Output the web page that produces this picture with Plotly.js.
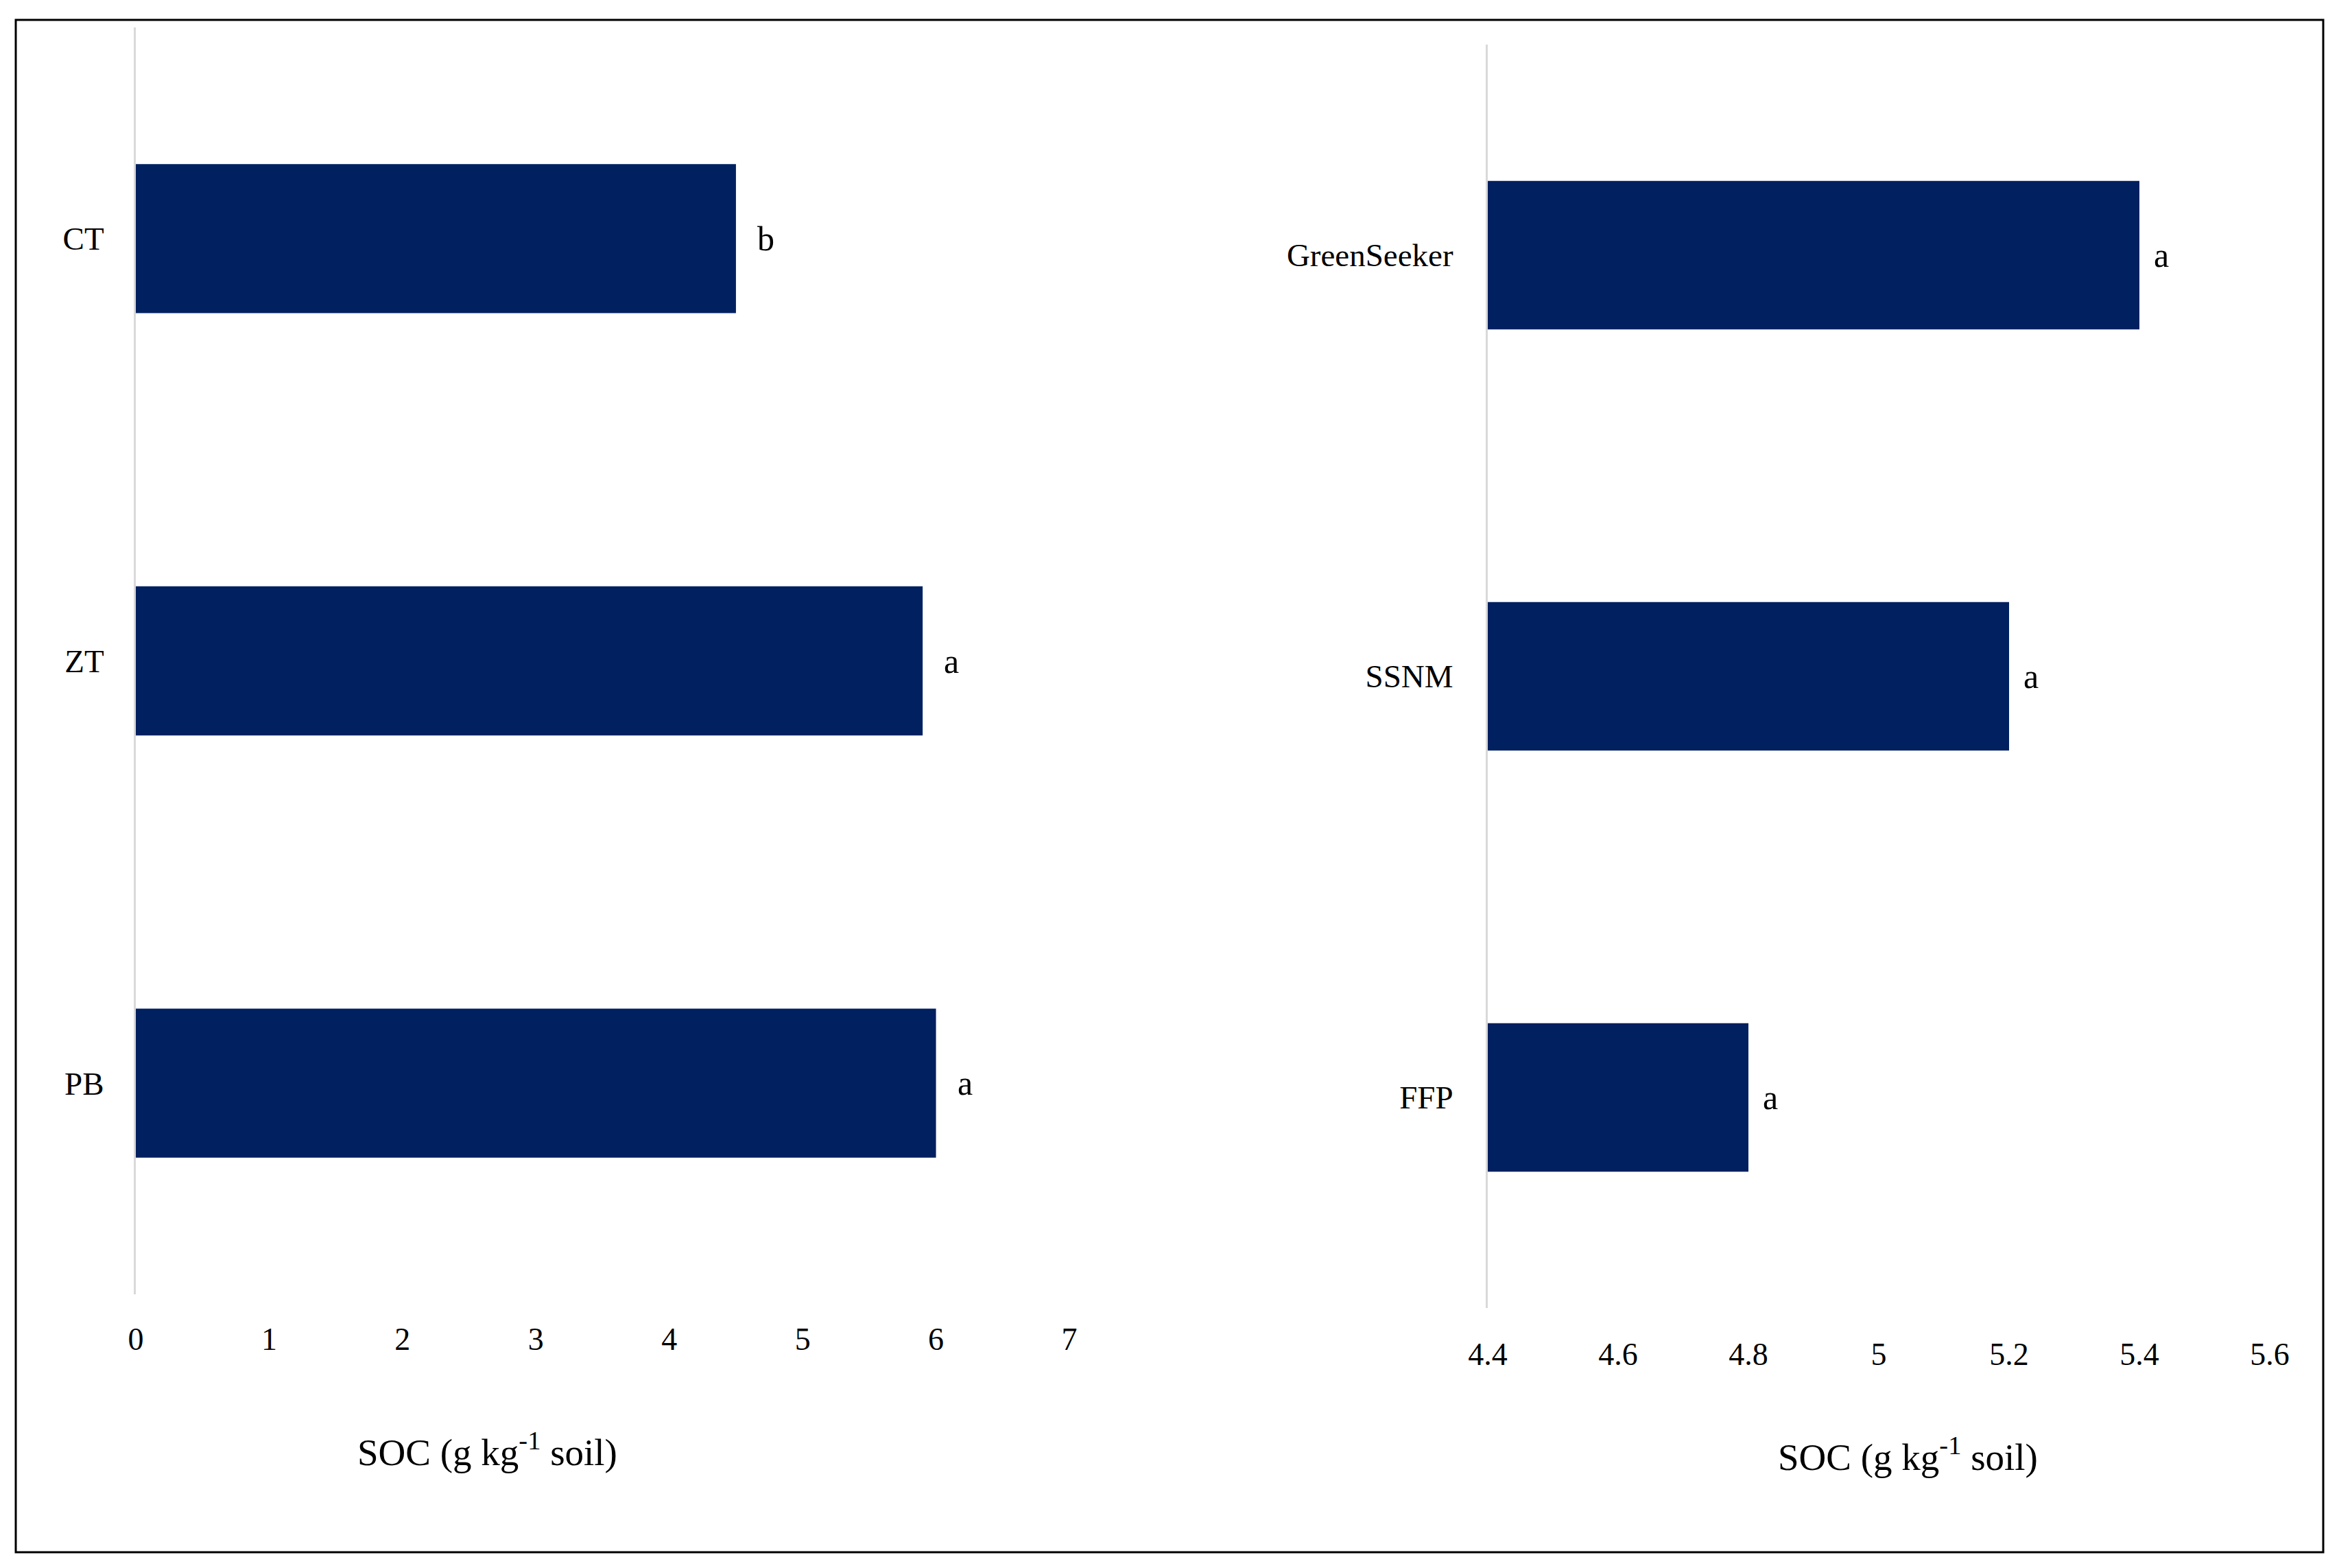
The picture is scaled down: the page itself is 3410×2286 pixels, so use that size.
<!DOCTYPE html>
<html>
<head>
<meta charset="utf-8">
<script src="https://cdn.plot.ly/plotly-3.0.1.min.js"></script>
<style>html,body{margin:0;padding:0;background:#fff;}#chart{width:3410px;height:2286px;}</style>
</head>
<body>
<div id="chart"></div>
<script>
// Left panel: tillage
const tillageCats = ['CT', 'ZT', 'PB'];
const tillageSOC = [4.5, 5.9, 6.0];
const tillageLetters = ['b', 'a', 'a'];

// Right panel: nutrient management
const nutrientCats = ['GreenSeeker', 'SSNM', 'FFP'];
const nutrientSOC = [5.4, 5.2, 4.8];
const nutrientLetters = ['a', 'a', 'a'];

const leftTicks = [0, 1, 2, 3, 4, 5, 6, 7];
const rightTicks = [4.4, 4.6, 4.8, 5.0, 5.2, 5.4, 5.6];
const rightTickText = ['4.4', '4.6', '4.8', '5', '5.2', '5.4', '5.6'];

const axisTitle = 'SOC (g kg<sup>-1</sup> soil)';

const W = 3410, H = 2286;
const BAR = '#002060';
const FONT = 'Liberation Serif, Times New Roman, serif';

const traces = [
  {type: 'bar', orientation: 'h', x: tillageSOC, y: tillageCats, xaxis: 'x', yaxis: 'y',
   marker: {color: BAR}, hoverinfo: 'x+y'},
  {type: 'bar', orientation: 'h', x: nutrientSOC, y: nutrientCats, xaxis: 'x2', yaxis: 'y2',
   marker: {color: BAR}, hoverinfo: 'x+y'}
];

const letterAnn = [];
tillageCats.forEach((c, i) => letterAnn.push({
  x: tillageSOC[i], y: c, xref: 'x', yref: 'y', text: tillageLetters[i],
  showarrow: false, xanchor: 'left', yanchor: 'middle', xshift: 29,
  font: {family: FONT, size: 50, color: '#000'}
}));
nutrientCats.forEach((c, i) => letterAnn.push({
  x: nutrientSOC[i], y: c, xref: 'x2', yref: 'y2', text: nutrientLetters[i],
  showarrow: false, xanchor: 'left', yanchor: 'middle', xshift: 19,
  font: {family: FONT, size: 50, color: '#000'}
}));

const titleAnn = [
  {x: 710 / W, y: 1 - 2113 / H, xref: 'paper', yref: 'paper', text: axisTitle, showarrow: false,
   xanchor: 'center', yanchor: 'middle', font: {family: FONT, size: 55, color: '#000'}},
  {x: 2781 / W, y: 1 - 2120 / H, xref: 'paper', yref: 'paper', text: axisTitle, showarrow: false,
   xanchor: 'center', yanchor: 'middle', font: {family: FONT, size: 55, color: '#000'}}
];

const xCommon = {
  showgrid: false, zeroline: false, showline: false, ticks: '',
  tickfont: {family: FONT, size: 46, color: '#000'}, fixedrange: true
};
const yCommon = {
  showgrid: false, zeroline: false, showline: true, linecolor: '#d9d9d9', linewidth: 3,
  ticks: '', autorange: 'reversed', type: 'category',
  tickfont: {family: FONT, size: 47, color: '#000'}, fixedrange: true
};

const layout = {
  width: W, height: H,
  margin: {l: 0, r: 0, t: 0, b: 0},
  paper_bgcolor: '#fff', plot_bgcolor: 'rgba(0,0,0,0)',
  showlegend: false, bargap: 0.647,
  xaxis: Object.assign({}, xCommon, {domain: [198 / W, 1559 / W], anchor: 'y', range: [0, 7],
    tickvals: leftTicks, ticklabelstandoff: 34}),
  yaxis: Object.assign({}, yCommon, {domain: [1 - 1887 / H, 1 - 40 / H], anchor: 'x',
    ticklabelstandoff: 34}),
  xaxis2: Object.assign({}, xCommon, {domain: [2169 / W, 3309 / W], anchor: 'y2', range: [4.4, 5.6],
    tickvals: rightTicks, ticktext: rightTickText, ticklabelstandoff: 36}),
  yaxis2: Object.assign({}, yCommon, {domain: [1 - 1907 / H, 1 - 65 / H], anchor: 'x2',
    ticklabelstandoff: 38}),
  annotations: letterAnn.concat(titleAnn),
  shapes: [{type: 'rect', xref: 'paper', yref: 'paper', x0: 23 / W, x1: 3387 / W,
    y0: 1 - 2263 / H, y1: 1 - 29 / H, line: {color: '#000', width: 3}, fillcolor: 'rgba(0,0,0,0)'}]
};

Plotly.newPlot('chart', traces, layout, {displayModeBar: false, staticPlot: true});
</script>
</body>
</html>
